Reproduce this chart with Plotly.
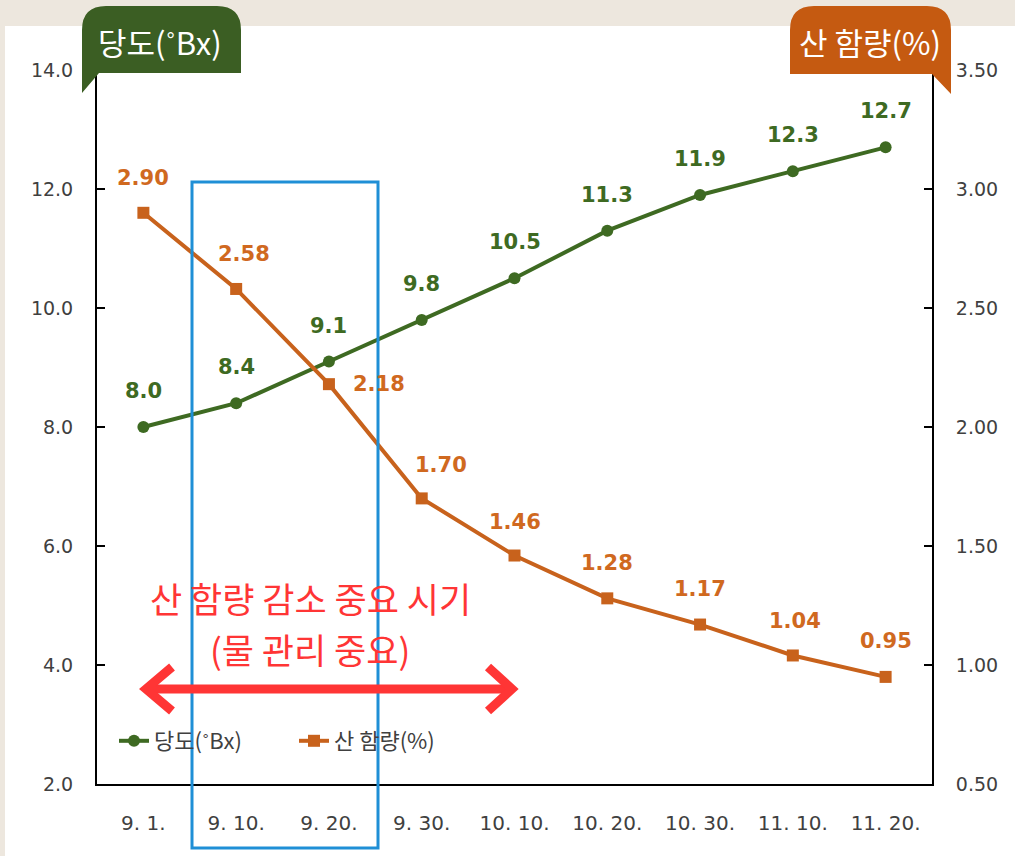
import plotly.graph_objects as go

# ---------------- data ----------------
dates = ["9. 1.", "9. 10.", "9. 20.", "9. 30.", "10. 10.", "10. 20.", "10. 30.", "11. 10.", "11. 20."]
brix = [8.0, 8.4, 9.1, 9.8, 10.5, 11.3, 11.9, 12.3, 12.7]
acid = [2.90, 2.58, 2.18, 1.70, 1.46, 1.28, 1.17, 1.04, 0.95]
brix_name = "당도(˚Bx)"
acid_name = "산 함량(%)"
note_line1 = "산 함량 감소 중요 시기"
note_line2 = "(물 관리 중요)"

# ---------------- style ----------------
W, H = 1015, 856
L, R, T, B = 97, 932, 70, 784  # plot area in pixels
GREEN = "#3e6a22"
GREEN_TAB = "#3b5e23"
ORANGE = "#c8621c"
ORANGE_LBL = "#d0691f"
BLUE = "#1f8fd6"
RED = "#ff3535"
FONT = "Noto Sans CJK KR"
NUMFONT = "DejaVu Sans"

# label offsets (pixels) for each acid label
acid_dx = [0, 8, 50, 19, 0, 0, 0, 2, 0]
acid_dy = [35, 35, 0, 33, 34, 35, 36, 34, 36]


def px(x):
    return (x - L) / (R - L)


def py(y):
    return (B - y) / (B - T)


fig = go.Figure()
fig.add_trace(go.Scatter(
    x=dates, y=brix, name=brix_name, mode="lines+markers", legend="legend",
    line=dict(color=GREEN, width=4), marker=dict(symbol="circle", size=12, color=GREEN),
    yaxis="y"))
fig.add_trace(go.Scatter(
    x=dates, y=acid, name=acid_name, mode="lines+markers", legend="legend2",
    line=dict(color=ORANGE, width=4), marker=dict(symbol="square", size=12, color=ORANGE),
    yaxis="y2"))

annotations = []
for d, v in zip(dates, brix):
    annotations.append(dict(x=d, y=v, xref="x", yref="y", text=f"<b>{v:.1f}</b>",
                            showarrow=False, yshift=36, xanchor="center", yanchor="middle",
                            font=dict(family=NUMFONT, size=21, color=GREEN)))
for d, v, dx, dy in zip(dates, acid, acid_dx, acid_dy):
    annotations.append(dict(x=d, y=v, xref="x", yref="y2", text=f"<b>{v:.2f}</b>",
                            showarrow=False, xshift=dx, yshift=dy, xanchor="center", yanchor="middle",
                            font=dict(family=NUMFONT, size=21, color=ORANGE_LBL)))


def paper_text(x, y, text, size, color):
    return dict(x=px(x), y=py(y), xref="paper", yref="paper", text=text, showarrow=False,
                xanchor="center", yanchor="middle", font=dict(family=FONT, size=size, color=color))


annotations.append(paper_text(160, 42, brix_name, 31, "white"))
annotations.append(paper_text(870, 42, acid_name, 31, "white"))
annotations.append(paper_text(310, 597, note_line1, 35, RED))
annotations.append(paper_text(310, 648, note_line2, 35, RED))


def tab_path(x0, x1, y0, y1, r, pointer_left):
    s = f"M {px(x0)},{py(y1)} L {px(x0)},{py(y0 + r)} "
    s += f"Q {px(x0)},{py(y0)} {px(x0 + r)},{py(y0)} "
    s += f"L {px(x1 - r)},{py(y0)} Q {px(x1)},{py(y0)} {px(x1)},{py(y0 + r)} "
    if pointer_left:
        s += f"L {px(x1)},{py(y1)} L {px(x0 + 17)},{py(y1)} L {px(x0)},{py(y1 + 20)} Z"
    else:
        s += f"L {px(x1)},{py(y1 + 20)} L {px(x1 - 19)},{py(y1)} L {px(x0)},{py(y1)} Z"
    return s


shapes = [
    dict(type="rect", xref="paper", yref="paper", x0=px(5), x1=px(1020), y0=py(26), y1=py(870),
         fillcolor="white", line=dict(width=0), layer="below"),
    dict(type="path", xref="paper", yref="paper", path=tab_path(82, 241, 6, 73, 24, True),
         fillcolor=GREEN_TAB, line=dict(width=0)),
    dict(type="path", xref="paper", yref="paper", path=tab_path(790, 951, 6, 74, 24, False),
         fillcolor="#c55a11", line=dict(width=0)),
    dict(type="rect", xref="paper", yref="paper", x0=px(192), x1=px(378), y0=py(848), y1=py(182),
         line=dict(color=BLUE, width=3), fillcolor="rgba(0,0,0,0)"),
    dict(type="line", xref="paper", yref="paper", x0=px(148), x1=px(510), y0=py(689), y1=py(689),
         line=dict(color=RED, width=9)),
    dict(type="path", xref="paper", yref="paper",
         path=f"M {px(172)},{py(667)} L {px(146)},{py(689)} L {px(172)},{py(711)}",
         line=dict(color=RED, width=9)),
    dict(type="path", xref="paper", yref="paper",
         path=f"M {px(488)},{py(667)} L {px(512)},{py(689)} L {px(488)},{py(711)}",
         line=dict(color=RED, width=9)),
]

tickfont = dict(family=NUMFONT, size=19, color="#404040")
xtickfont = dict(family=NUMFONT, size=20, color="#404040")
legfont = dict(family=FONT, size=22, color="#404040")
fig.update_layout(
    width=W, height=H,
    margin=dict(l=L, r=W - R, t=T, b=H - B, pad=0),
    paper_bgcolor="#ede7de", plot_bgcolor="white",
    showlegend=True,
    legend=dict(x=px(114), y=py(741), xanchor="left", yanchor="middle",
                font=legfont, bgcolor="rgba(0,0,0,0)"),
    legend2=dict(x=px(294), y=py(741), xanchor="left", yanchor="middle",
                 font=legfont, bgcolor="rgba(0,0,0,0)"),
    xaxis=dict(type="category", range=[-0.5, 8.5], showline=True, linecolor="black", linewidth=2,
               showgrid=False, ticks="", tickfont=xtickfont, ticklabelstandoff=20, zeroline=False),
    yaxis=dict(range=[2, 14], dtick=2, tickformat=".1f", showline=True, linecolor="black", linewidth=2,
               showgrid=False, ticks="inside", ticklen=8, tickwidth=2, tickcolor="black",
               tickfont=tickfont, ticklabelstandoff=18, zeroline=False),
    yaxis2=dict(range=[0.5, 3.5], dtick=0.5, tickformat=".2f", overlaying="y", side="right",
                showline=True, linecolor="black", linewidth=2, showgrid=False, ticks="inside",
                ticklen=8, tickwidth=2, tickcolor="black", tickfont=tickfont, ticklabelstandoff=18,
                zeroline=False),
    annotations=annotations,
    shapes=shapes,
)

fig.write_html("out.html")
